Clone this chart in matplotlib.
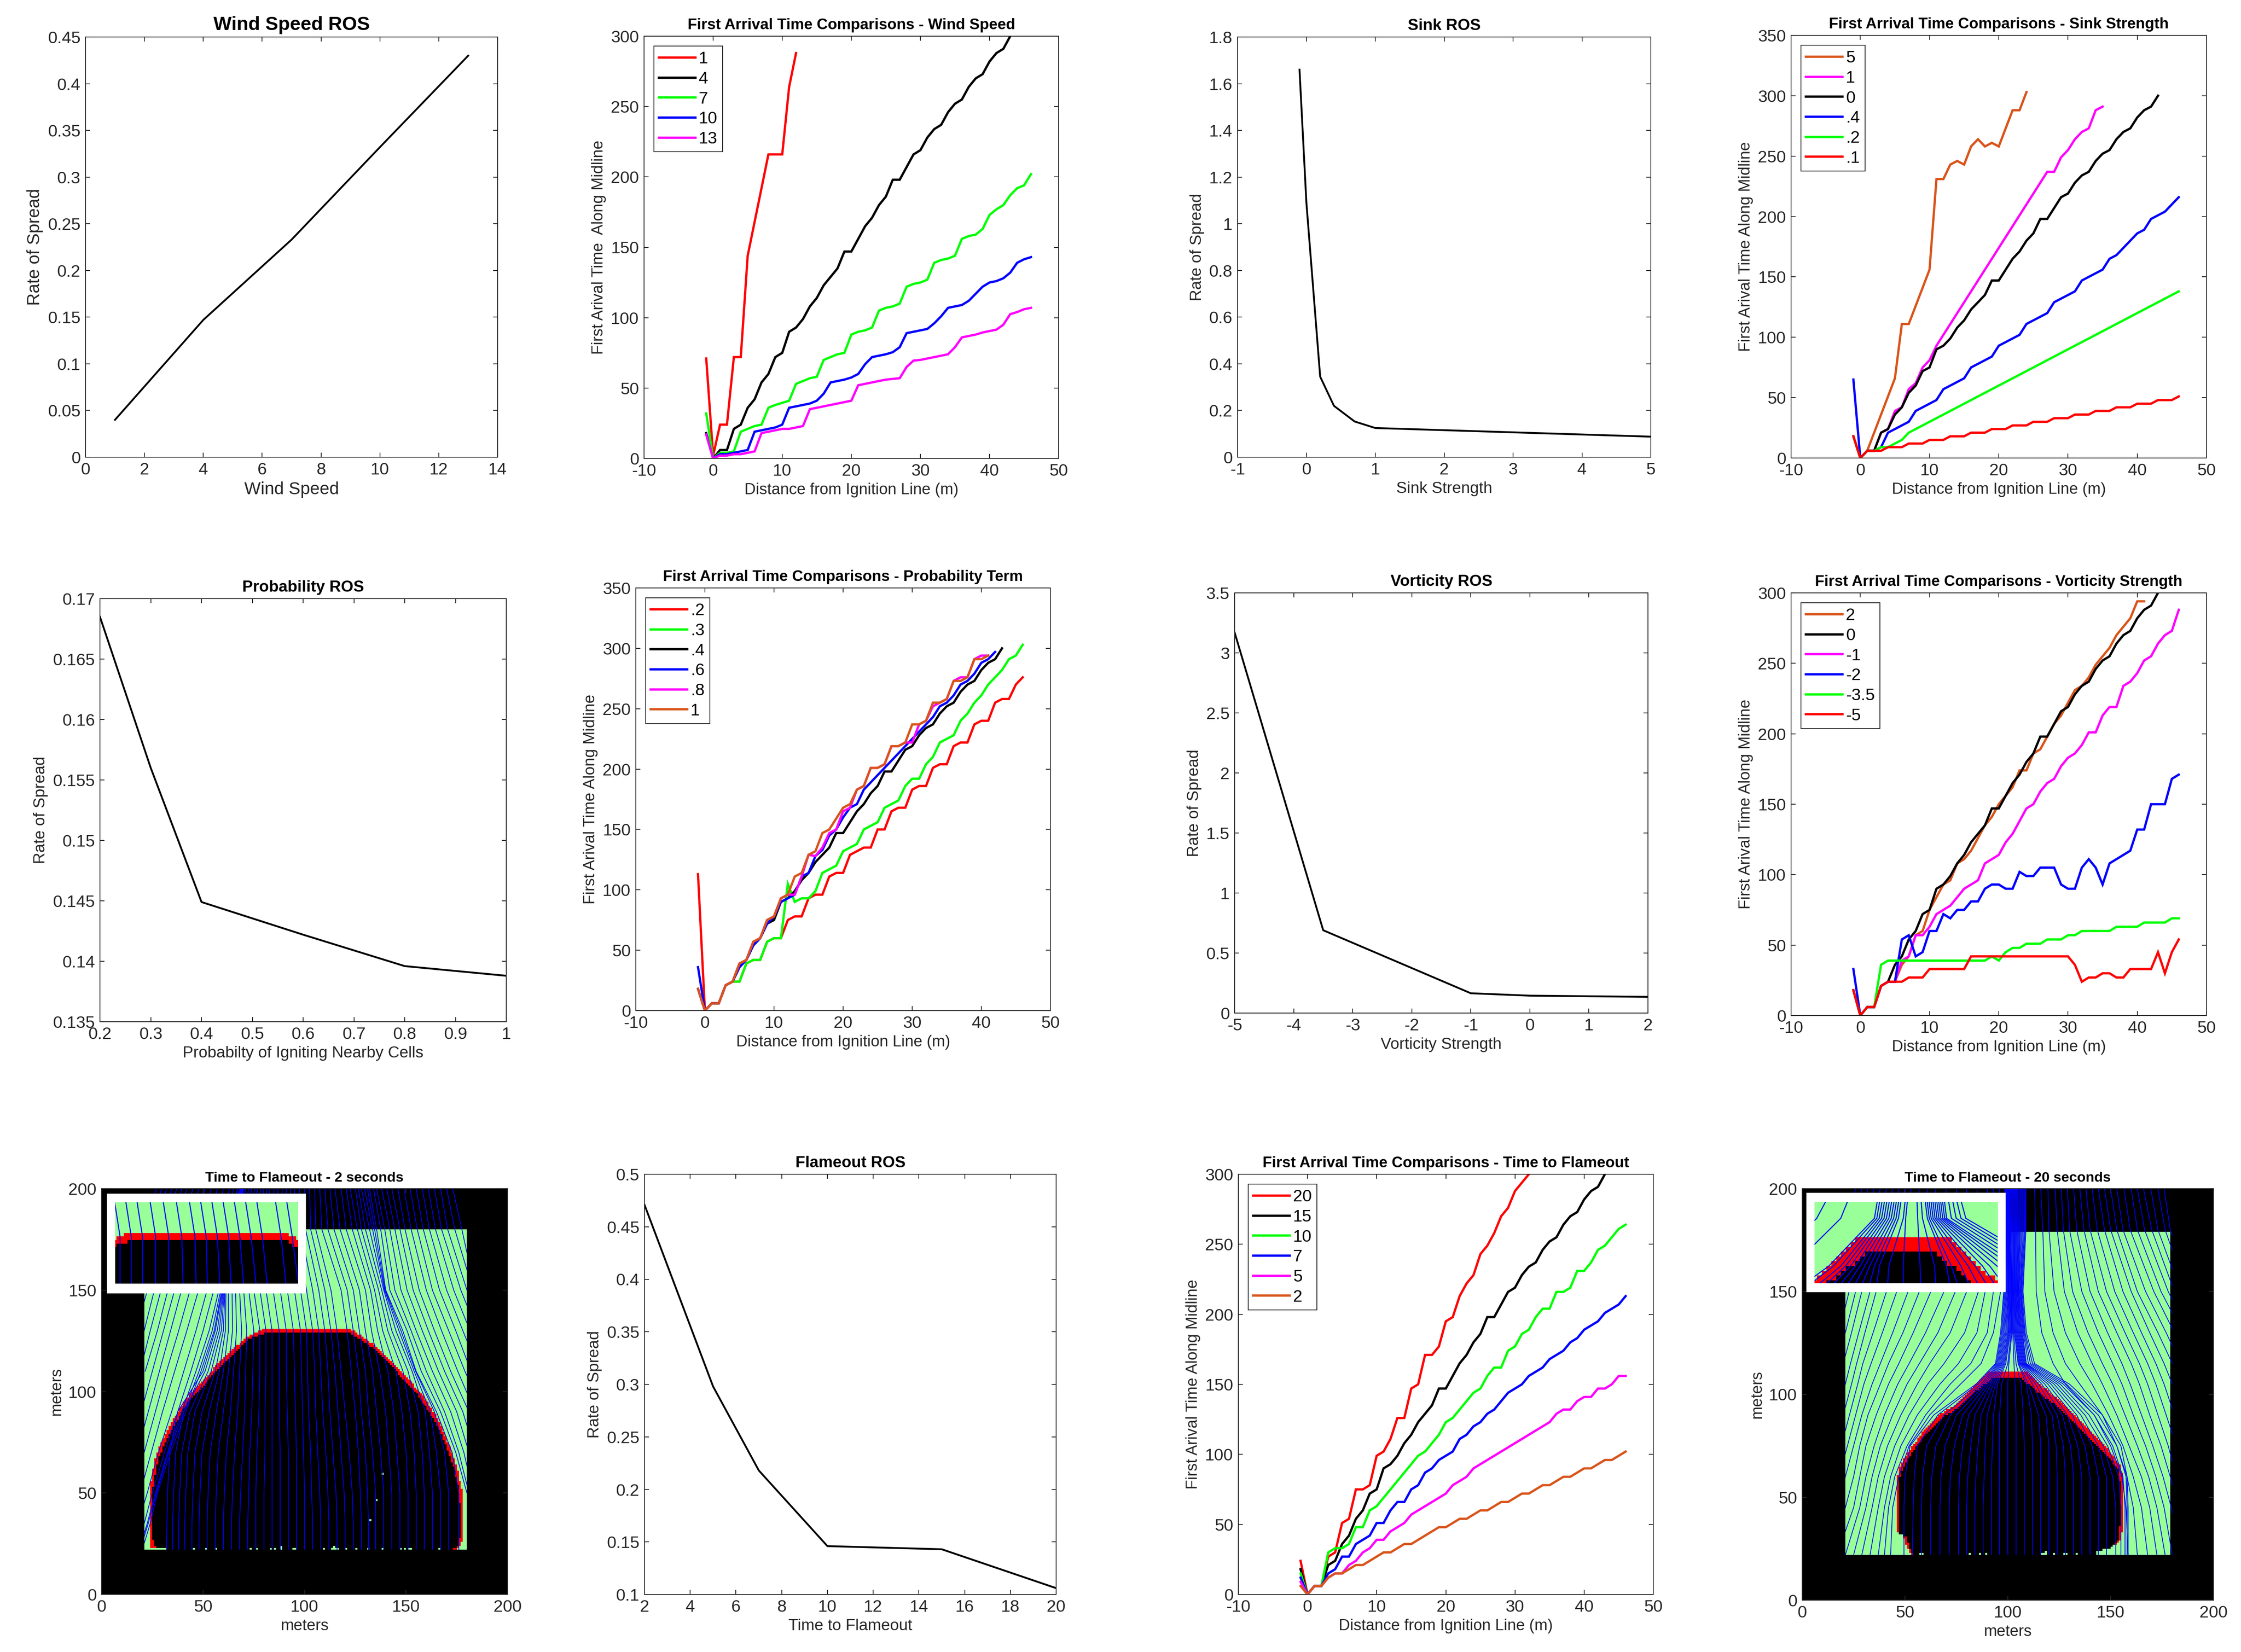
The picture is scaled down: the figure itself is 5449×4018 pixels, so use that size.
import numpy as np
import matplotlib
matplotlib.use("Agg")
import matplotlib.pyplot as plt
from matplotlib.colors import ListedColormap
from matplotlib.patches import Rectangle
from matplotlib.path import Path

plt.rcParams['font.family'] = ['Liberation Sans', 'DejaVu Sans']
plt.rcParams['axes.unicode_minus'] = False

W = 5449
H = 4018
DARK = '#262626'
RED = (1, 0, 0)
GREEN = (0, 1, 0)
BLUE = (0, 0, 1)
MAGENTA = (1, 0, 1)
BLACK = (0, 0, 0)
ORANGE = (0.85, 0.33, 0.1)

n = np.nan

# rate of spread panels
wind_x = [1, 4, 7, 10, 13]
wind_ros = [0.04, 0.147, 0.233, 0.332, 0.43]
sink_x = [-0.1, 0, 0.2, 0.4, 0.7, 1, 5]
sink_ros = [1.66, 1.09, 0.345, 0.22, 0.153, 0.125, 0.088]
prob_x = [0.2, 0.3, 0.4, 0.6, 0.8, 1]
prob_ros = [0.1685, 0.156, 0.1449, 0.1422, 0.1396, 0.1388]
vort_x = [-5, -3.5, -1, 0, 2]
vort_ros = [3.17, 0.69, 0.165, 0.145, 0.135]
flame_x = [2, 5, 7, 10, 15, 20]
flame_ros = [0.471, 0.298, 0.218, 0.146, 0.143, 0.106]

# first arrival times, one value per metre starting at x=-1
base = [18,0,6,6,21,24,36,42,54,60,72,75,90,93,99,108,114,123,129,135,147,147,156,165,171,180,186,198,198,207,216,219,228,234,237,246,252,255,264,270,273,282,288,291,300]

wind_1 = [71,2,24,24,72,72,144,168,192,216,216,216,264,288]
wind_7 = [32,0,4,4,5,19,21,23,24,36,38,39.5,41,53,55,57,58,70,72,74,75,88,90,91,93,105,107,108,110,122,124,125,127,139,141,142,144,156,158,159,163,173,177,180,187,192,194,202]
wind_10 = [17,0,3,3,4,5,6,19,20,21,22,24,36,37,38,39,41,46,54,55,56,57.5,60,67,72,73,74,75.5,79,89,90,91,92,96,101,107,108,109,112,117,122,125,126,128,132,139,141.5,143]
wind_13 = [17,0,2,2,3,3,4,5,18,19,20,21,21,22,23,35,36,37,38,39,40,41,52,53,54,55,56,56.5,57,65,69.5,70,71,72,73,74,79,86,87,88,89.5,90.5,91.5,95,102.5,104,106,107]

sink_5 = [18,0,6,21,36,51,66,111,111,126,141,156,231,231,243,246,243,258,264,258,261,258,273,288,288,303]
sink_1 = [18,0,6,6,21,24,39,42,57,62,75,81,93,102,111,120,129,138,147,156,165,174,183,192,201,210,219,228,237,237,249,255,264,270,273,288,291]
sink_04 = [65,0,6,6,9,21,24,27,30,39,42,45,48,57,60,63,66,75,78,81,84,93,96,99,102,111,114,117,120,129,132,135,138,147,150,153,156,165,168,174,180,186,189,198,201,204,210,216]
sink_02 = [18,0,6,6,9,9,12,15,21,24,27,30,33,36,39,42,45,48,51,54,57,60,63,66,69,72,75,78,81,84,87,90,93,96,99,102,105,108,111,114,117,120,123,126,129,132,135,138]
sink_01 = [18,0,6,6,6,9,9,9,12,12,12,15,15,15,18,18,18,21,21,21,24,24,24,27,27,27,30,30,30,33,33,33,36,36,36,39,39,39,42,42,42,45,45,45,48,48,48,51]

prob_02 = [113,0,6,6,21,24,24,39,42,42,57,60,60,75,78,78,93,96,96,111,114,114,129,132,135,135,150,150,165,168,168,183,186,186,201,204,204,219,222,222,237,240,240,255,258,258,270,276]
prob_03 = [18,0,6,6,21,24,24,39,42,42,57,60,60,105,90,93,93,99,114,117,120,132,135,138,150,153,156,168,171,174,186,192,192,204,210,222,225,228,240,246,255,261,270,276,282,291,294,303]
prob_06 = [36,0,6,6,21,24,36,42,54,60,72,78,90,93,96,111,114,128,133,145,150,160,168,171,183,189,195,201,207,213,219,225,231,237,243,252,255,261,270,273,279,288,291,297]
prob_08 = [18,0,6,6,21,24,39,42,57,60,75,78,93,96,96,111,129,128,135,147,150,165,168,183,186,201,201,204,219,219,222,222,237,240,252,255,258,273,276,276,291,294,294]
prob_1 = [18,0,6,6,21,24,39,42,57,60,75,78,93,96,111,114,129,132,147,150,159,168,171,183,186,201,201,204,219,219,222,237,237,240,255,255,258,273,273,276,291,291,294]

vort_2 = [18,0,6,6,21,24,24,36,42,57,60,75,84,93,96,108,111,117,126,135,141,150,156,162,174,174,186,189,198,207,213,222,231,234,240,249,255,261,270,276,282,294,294]
vort_m1 = [18,0,6,6,21,24,24,39,42,57,57,63,72,75,78,84,90,93,96,108,111,114,123,129,138,147,150,159,165,168,177,183,186,192,201,201,213,219,219,234,237,243,252,255,264,270,273,288]
vort_m2 = [33,0,6,6,21,24,24,54,57,42,45,60,60,72,69,75,75,81,81,90,93,93,90,90,102,99,99,105,105,105,93,90,90,105,111,105,93,108,111,114,117,132,132,150,150,150,168,171]
vort_m35 = [18,0,6,6,36,39,39,39,39,39,39,39,39,39,39,39,39,39,39,39,42,39,45,48,48,51,51,51,54,54,54,57,57,60,60,60,60,60,63,63,63,63,66,66,66,66,69,69]
vort_m5 = [18,0,6,6,21,24,24,24,27,27,27,33,33,33,33,33,33,42,42,42,42,42,42,42,42,42,42,42,42,42,42,42,36,24,27,27,30,30,27,27,33,33,33,33,45,30,45,54]

flame_20 = [24,0,6,6,27,30,51,54,75,75,78,99,102,111,126,126,147,150,171,171,177,195,198,213,222,228,243,249,258,270,276,288,294,300]
flame_10 = [15,0,6,6,30,33,33,36,48,48,60,63,69,75,81,87,93,99,102,108,114,123,126,132,138,144,147,156,162,162,174,177,186,189,198,204,204,216,216,219,231,231,237,246,249,255,261,264]
flame_7 = [12,0,6,6,15,18,27,27,36,39,42,51,51,60,66,66,75,78,87,90,96,99,102,111,114,120,123,129,132,138,144,147,150,156,159,162,168,171,174,180,183,189,192,195,201,204,207,213]
flame_5 = [9,0,6,6,12,15,15,21,24,30,33,39,39,45,48,51,57,60,63,66,69,72,78,81,84,90,93,96,99,102,105,108,111,114,117,120,123,129,132,132,138,141,141,147,147,150,156,156]
flame_2 = [6,0,6,6,12,15,15,18,21,21,24,27,30,30,33,36,36,39,42,45,48,48,51,54,54,57,60,60,63,66,66,69,72,72,75,78,78,81,84,84,87,90,90,93,96,96,99,102]

# burnt area outlines (x, y), outer edge of the red front and inner edge
front2_outer = [(23.5,21.6),(23.5,49.5),(25.5,62.3),(26.8,68.7),(30.2,76.7),(35.2,86.3),(41,95.8),(50.3,106),(58.7,115),(67,123),(72,127),(79.6,130.7),(123.2,130.7),(127.4,127.8),(135.8,122.2),(147.5,110.2),(157.6,99),(166,86.3),(171,74.3),(175.2,62.3),(177.7,51),(178.5,30),(176.9,24),(173.5,21.6)]
front2_inner = [(30,21.6),(26,24),(25,30),(25,50),(27,62),(28.5,68),(32,76),(37,85.5),(42.5,95),(52,105),(60,114),(68,122),(73,126),(80.5,128.7),(122.5,128.7),(126.5,126.3),(134.5,121),(146,109),(156,98),(164.5,85.5),(169.5,74),(173.7,62),(176.2,51),(177.2,30),(175.5,24),(171,21.6)]
front20_outer = [(53,21.5),(50.6,26.5),(49,32),(45.5,32.8),(45.5,50),(46.7,62.8),(48.3,66.7),(52.2,73),(58.6,81.7),(68,91),(74.5,95),(84,104.6),(90.4,111),(109.5,111),(116,104.6),(124,98.3),(138.2,84),(147.8,74.6),(155,65),(156.5,55),(156.5,42),(155,29),(151,26.5),(147.8,25.7),(143.8,25),(142.7,21.5)]
front20_inner = [(54,21.5),(52,26.5),(50.5,31),(46.5,32),(46.5,50),(47.7,62),(50,66),(53.5,72),(60,80.5),(69,89.5),(76,93.5),(85,102),(93,108),(106.5,108),(113.5,102),(122,96),(136.5,82.5),(146,73),(153.5,64),(155,55),(155,42),(154,30),(150.5,25.5),(147.5,24.7),(143.8,24),(142,21.5)]

# single green cells left inside the burnt area
specks2_x = [24,25,26,27,28,29,30,31,45,51,56,73,76,83,85,88,88,94,95,109,113,114,114,115,116,120,125,131,138,147,149,151,152,166]
specks2_y = [22,22,22,22,22,22,22,22,22,22,22,22,22,22,22,22,23,22,22,22,22,22,23,22,22,22,22,22,22,22,22,22,22,22]
specks2_in_x = [138,135,132]
specks2_in_y = [59,46,36]
specks20_x = [57,58,81,86,89,116,117,118,118,122,127,128,133,146,147,148,150,151,152]
specks20_y = [22,22,22,22,22,22,22,22,23,22,22,22,22,24,24,24,25,24,25]

# streamlines: x position of each line at these heights, nan once it has left
levels2 = [200,180,150,130,110,90,70,50,35,22]
lines2 = [
 [27,21],[29.5,24,14],[32,26.5,17],[34.5,29,21],[37,31,22.6,17],[39.5,34,26,21],
 [42,36.5,29.3,24,19],[45,39,32.7,27.5,21.5],[48,42,36,30.5,25,19.5],
 [51,45,39.4,34,28.5,23,17.5],[54,48.5,43.6,38,32,26.5,21,15],[57,52,47.8,42,36,30,24.5,19],
 [60,55.5,52,46.5,40.5,34.5,28,22.5,18],[63,59,55.3,50,44,37.5,31,25,21,17],
 [65,61,57.8,53,46.5,39.5,32.5,26.5,22.5,18.5],[67,62,58.7,54.5,48,40.5,33,27,23,19],
 [68,63,59.2,55.5,49,41.5,34,27.5,24,20],
 [68.5,63.5,59.6,56,50,37.5,33.5,32.5,32.2,32],[68.8,64,59.9,57,51,40.5,36.5,35.5,35,35],
 [69.1,64.4,60.2,58,52.5,43.5,39.5,38.5,38,38],[69.4,64.8,60.5,59,54,46,42.5,41.5,41,41],
 [69.7,65.2,60.8,60,56,49.5,46,45,44.5,44.5],[70,65.7,61.3,61,58,53,49.5,48.5,48,48],
 [71,67,62.5,62.5,60,56.5,53.5,52.5,52,52],[72.5,68.5,64.3,64.5,62.5,60,57.5,56.5,56,56],
 [74,70,66,66.5,65,63.5,61.5,60.5,60,60],[75.5,71.5,68,69,68,67,65.5,64.5,64,64],
 [77,73,70,71.5,71,70.5,69.5,68.5,68,68],[78.5,74.5,72.5,75,74.5,74,73,72.5,72,72],
 [80,76.5,75,78,78,77.5,76.5,76,76,76],
 [81.5,78.5,78,81,81,80.5,80.5,80,80,80],[83,80.5,81,84,84,84,84,84,84,84],
 [85,83,84.5,87.5,87.5,87.5,88,88,88,88],[87,85.5,88,91,91,91.5,92,92,92,92],
 [89,88,91.5,94.5,95,95.5,96,96,96,96],[91,90.5,95,98,98.5,99,99.5,100,100,100],
 [93,93,98,101,101.5,102,103,103.5,104,104],[95,95.5,101,104,105,105.5,106.5,107.5,108,108],
 [97.5,98,104,107,108,109,110.5,111.5,112,112],[100,100.5,107,110,111.5,112.5,114,115.5,116,116],
 [102.5,103,110,113,115,116.5,118,119.5,120,120],[105,105.5,113,116,118,120,122,123.5,124,124],
 [107.5,108.5,118,121,123,125,126.5,127.5,128,128],[110,111.5,121,124,126.5,128,130,131,131.5,131.5],
 [112.5,114.5,124,127,130,131.5,133.5,135,135,135],[115,117.5,127,130,133.5,135.5,137.5,139,139,139],
 [118,120.5,130,133,137,140,141.5,143,143,143],[120.5,123.5,132.5,136,141,144,145.5,147,147,147],
 [122.5,126,134.5,138.5,145,148,150,151,151,151],[125,128,136.5,141,148.5,152,154,155,155,155],
 [126.5,130,138,143,151,156,158,159,159,159],[128,132,139,145,153,159.5,161.5,163,163,163],
 [129.5,133.5,139.4,146.5,154,162,165,167,167,167],[131,134.5,139.7,147.5,154.7,164,169,171,171,171],
 [132,135.5,140,148.4,155,165,172.7,176,176,176],
 [134,137.5,142,150.5,157.5,167,174.5,180],[135.5,139.5,144.5,152.5,160,169,176,181],
 [138,142,147.5,155,163,172,178.5,183],[140.5,144.5,150.5,158,166,175,181],
 [143,147,153.5,161,169,178,184],[146,149.5,156.5,164,172,181],[149,152.5,160,167.5,175.5,184],
 [152,155.5,163,171,179,188],[155,158.5,166.5,174.5,182],[158,161.5,170,178,186],
 [161,164.5,173.5,181.5],[164,167.5,177,185],[167,170.5,180],[170,174,183],[173,177.5,184],
]

levels20 = [200,180,150,130,115,105,90,75,60,45,22]
lines20 = [
 [26,21],[29,24,16],[32,27,19],[35,30,22.8,18],[38,33,26,21,17],[41,36,29,24,20,17],
 [44,39,33,27.5,23.5,21,16],[47,42,36,30.5,26.5,24,20,16],[50,45,41,34.5,29.5,27,23,19,15],
 [53,48.5,46,39,33.5,30,26,22,18,14],[57,53,51.5,44,38,34,29,25,21,18,11],
 [61,58,57,49,42,38,32,28,25,21,14],[65,63,62.6,54,47,42,36,31,28,25,17],
 [70,69,69,60,52,46.5,40,35,31,28,21],[75,74.5,74.5,66,57,51,44,38,34,31,25],
 [80,80,80,72,62,56,48,41.5,37,34,29],[85,85.5,85.7,79,69,61,52,45,40,37,33],
 [90,90,89,85,76,67,56,48,43,40,37],[93,93.5,93,90,82,72,60,51,45,42,40],
 [96,96.5,96.5,93,87,77,62,52,47,44,43],
 [98.5,99,98,96.5,94,84.5,64,52.5,50,49.5,49.5],[98.6,99.2,98.4,97,94.5,85.5,66,56,54.5,54,53.5],
 [98.8,99.4,98.8,97.5,95,87,69,60.5,58.5,58,58],[99,99.6,99.2,98,95.5,88,72,65,63,62.5,62.5],
 [99.2,99.8,99.6,98.5,96,89,75,69.5,67.5,67,67],[99.4,100,100,99,96.5,90,78,74,72,71.5,71.5],
 [99.7,100.2,100.3,99.5,97,91,81,78,76.5,76,76],[100,100.4,100.6,100,97.5,92,84,82,80.5,80,80],
 [100.2,100.6,100.9,100.4,98,93,87,85.5,84.5,84,84],[100.5,100.8,101.2,100.8,98.5,94,90,89,88.5,88,88],
 [100.8,101,101.5,101.2,99,95,93,92.5,92,92,92],[101,101.3,101.8,101.6,100,97,96,96,96,96,96],
 [101.4,101.6,102,102,100.5,100,100,100,100,100,100],[101.8,102,102.3,102.4,103,103.5,104,104,104,104,104],
 [102.2,102.4,102.6,102.8,104,106.5,107.5,108,108,108,108],[102.6,102.8,102.9,103.2,105,109,111.5,112,112,112,112],
 [103,103.2,103.2,103.6,105.4,110,115,116,116,116,116],[103.4,103.6,103.5,104,105.8,112,118.5,120,120,120,120],
 [103.8,104,103.8,104.4,106.2,113.5,121.5,123.5,124,124,124],[104.2,104.4,104.1,104.8,106.6,115,124,127,128,128,128],
 [104.6,104.8,104.4,105.2,107,116.5,126.5,130.5,132,132,132],[105,105.2,104.7,105.6,107.4,118,129,134,136,136,136],
 [105.5,105.6,105,106,107.8,119.5,131.5,137.5,140,140,140],[106,106,105.3,106.4,108.2,121,133.5,141,144,144,144],
 [106.5,106.5,105.6,106.8,108.6,122.5,135.5,144,148,148,148],[107,107,106,107.2,109,124,137.5,146.5,151,152.5,152.5],
 [107.5,107.5,106.3,107.6,110,125.5,139.5,148.5,154,155,155],[108,108,106.6,108,111,127,142,151,156,157,157],
 [108.5,108.4,107,108.4,112,128.5,144,153,157.5,158,158],[108.8,108.8,107.4,109,113,130,146,155,158,158.5,158.5],
 [113,113.5,113.8,116.5,122,128,142,150,155.5,157.5,158.5],[116,117,118,122,128,135,146,153,158,161,163],
 [119.5,120,122.5,128,135,141,149,156,161,165,168],[123,124,127.5,134,141,146,153,159,165,169,172.5],
 [126,127,131.5,139,146,151,157,163,168.5,172.5,176.5],[129,130,136,144,151,155.5,161,167,172,176,180],
 [132,133.5,140,148.5,155.5,159.5,165,170.5,175.5,179.5,184],[135,137,144,153,160,164,169,174.5,179,183],
 [138,140,148,157,164,168,173,178,182],[141,143.5,152,161,168,172,177,182],[144,147,156,165,172,176,181],
 [147,150,160,169,176,180,185],[150,153,163,173,180,184],[153,156,167,177,184],[156.5,159.5,171,181],
 [160,163,174.5,185],[163,166.5,178,188],[166,170,181],[169.5,173,184],[173,176.5,187],[176,179,190],
]


def make_axes(left, top, right, bottom):
    ax = plt.gcf().add_axes([left / W, 1 - bottom / H, (right - left) / W, (bottom - top) / H])
    for s in ax.spines.values():
        s.set_linewidth(0.35)
        s.set_color(DARK)
    ax.tick_params(direction='in', top=True, right=True, length=2.0, width=0.35,
                   color=DARK, labelcolor=DARK, labelsize=7.4, pad=2.2)
    return ax


def finish(ax, xlim, ylim, xticks, yticks, xtl, ytl, title, xlabel, ylabel, tsize=6.7, lsize=6.9):
    ax.set_xlim(xlim)
    ax.set_ylim(ylim)
    ax.set_xticks(xticks, xtl)
    ax.set_yticks(yticks, ytl)
    ax.set_title(title, fontsize=tsize, fontweight='bold', color='k', pad=3.0)
    ax.set_xlabel(xlabel, fontsize=lsize, color=DARK, labelpad=1.5)
    ax.set_ylabel(ylabel, fontsize=lsize, color=DARK, labelpad=2.0)


def ros_panel(box, x, y, xlim, ylim, xticks, yticks, xtl, ytl, title, xlabel, tsize=7.0, lsize=7.0):
    ax = make_axes(*box)
    ax.plot(x, y, color='k', lw=0.8)
    finish(ax, xlim, ylim, xticks, yticks, xtl, ytl, title, xlabel, 'Rate of Spread', tsize, lsize)


def arrival_panel(box, series, labels, colors, ylim, yticks, ytl, title, ylabel):
    ax = make_axes(*box)
    for y, lab, col in zip(series, labels, colors):
        ax.plot(np.arange(-1, len(y) - 1), y, color=col, lw=1.0, label=lab, solid_joinstyle='miter')
    finish(ax, (-10, 50), ylim, [-10, 0, 10, 20, 30, 40, 50],
           yticks, ['-10', '0', '10', '20', '30', '40', '50'], ytl,
           title, 'Distance from Ignition Line (m)', ylabel)
    dx = 24 / (box[2] - box[0])
    dy = 24 / (box[3] - box[1])
    leg = ax.legend(loc='upper left', bbox_to_anchor=(dx, 1 - dy), borderaxespad=0, fontsize=7.4,
                    fancybox=False, framealpha=1, edgecolor=DARK, handlelength=2.15,
                    handletextpad=0.2, labelspacing=0.26, borderpad=0.3)
    leg.get_frame().set_linewidth(0.35)


def raster(outer, inner, x0, x1, y0, y1, spx, spy):
    # 0 black, 1 green, 2 red on a one metre grid
    gx, gy = np.meshgrid(np.arange(200) + 0.5, np.arange(200) + 0.5)
    pts = np.column_stack([gx.ravel(), gy.ravel()])
    grid = np.zeros((200, 200), dtype=int)
    grid[(gx > x0) & (gx < x1) & (gy > y0) & (gy < y1)] = 1
    out = Path(outer).contains_points(pts).reshape(200, 200)
    ins = Path(inner).contains_points(pts).reshape(200, 200)
    grid[out] = 2
    grid[ins] = 0
    grid[np.array(spy), np.array(spx)] = 1
    return grid


def draw_lines(ax, levels, rows, lw, clip=None):
    for row in rows:
        xs = list(row) + [n] * (len(levels) - len(row))
        ln, = ax.plot(xs, levels, color=BLUE, lw=lw)
        if clip is not None:
            ln.set_clip_path(clip)


def field_panel(box, grid, levels, rows, white, inner, xz, yz, title, title_size):
    ax = make_axes(*box)
    cmap = ListedColormap([(0, 0, 0), (0.6, 1, 0.6), (1, 0, 0)])
    ax.imshow(grid, origin='lower', extent=[0, 200, 0, 200], cmap=cmap, vmin=0, vmax=2,
              interpolation='nearest', aspect='auto')
    clip = Rectangle((21, 22), 159, 178, transform=ax.transData)
    draw_lines(ax, levels, rows, 0.33, clip)
    finish(ax, (0, 200), (0, 200), [0, 50, 100, 150, 200], [0, 50, 100, 150, 200],
           ['0', '50', '100', '150', '200'], ['0', '50', '100', '150', '200'],
           title, 'meters', 'meters', title_size)
    ax.add_patch(Rectangle((white[0], white[1]), white[2], white[3], color='white', zorder=5))
    ins = ax.inset_axes(inner, transform=ax.transData, zorder=6)
    ins.imshow(grid, origin='lower', extent=[0, 200, 0, 200], cmap=cmap, vmin=0, vmax=2,
               interpolation='nearest', aspect='auto')
    draw_lines(ins, levels, rows, 0.45)
    ins.set_xlim(xz)
    ins.set_ylim(yz)
    ins.set_xticks([])
    ins.set_yticks([])
    for s in ins.spines.values():
        s.set_visible(False)


fig = plt.figure(figsize=(W / 400, H / 400), dpi=400)

ros_panel((208, 90, 1210, 1112), wind_x, wind_ros, (0, 14), (0, 0.45),
          [0, 2, 4, 6, 8, 10, 12, 14],
          [0, 0.05, 0.1, 0.15, 0.2, 0.25, 0.3, 0.35, 0.4, 0.45],
          ['0', '2', '4', '6', '8', '10', '12', '14'],
          ['0', '0.05', '0.1', '0.15', '0.2', '0.25', '0.3', '0.35', '0.4', '0.45'],
          'Wind Speed ROS', 'Wind Speed', 8.4, 7.6)

arrival_panel((1566, 88, 2574, 1115), [wind_1, base, wind_7, wind_10, wind_13],
              ['1', '4', '7', '10', '13'], [RED, BLACK, GREEN, BLUE, MAGENTA],
              (0, 300), [0, 50, 100, 150, 200, 250, 300], ['0', '50', '100', '150', '200', '250', '300'],
              'First Arrival Time Comparisons - Wind Speed', 'First Arival Time  Along Midline')

ros_panel((3009, 90, 4014, 1112), sink_x, sink_ros, (-1, 5), (0, 1.8),
          [-1, 0, 1, 2, 3, 4, 5], [0, 0.2, 0.4, 0.6, 0.8, 1, 1.2, 1.4, 1.6, 1.8],
          ['-1', '0', '1', '2', '3', '4', '5'],
          ['0', '0.2', '0.4', '0.6', '0.8', '1', '1.2', '1.4', '1.6', '1.8'],
          'Sink ROS', 'Sink Strength')

arrival_panel((4355, 86, 5365, 1114), [sink_5, sink_1, base, sink_04, sink_02, sink_01],
              ['5', '1', '0', '.4', '.2', '.1'], [ORANGE, MAGENTA, BLACK, BLUE, GREEN, RED],
              (0, 350), [0, 50, 100, 150, 200, 250, 300, 350],
              ['0', '50', '100', '150', '200', '250', '300', '350'],
              'First Arrival Time Comparisons - Sink Strength', 'First Arival Time Along Midline')

ros_panel((243, 1456, 1231, 2485), prob_x, prob_ros, (0.2, 1), (0.135, 0.17),
          [0.2, 0.3, 0.4, 0.5, 0.6, 0.7, 0.8, 0.9, 1],
          [0.135, 0.14, 0.145, 0.15, 0.155, 0.16, 0.165, 0.17],
          ['0.2', '0.3', '0.4', '0.5', '0.6', '0.7', '0.8', '0.9', '1'],
          ['0.135', '0.14', '0.145', '0.15', '0.155', '0.16', '0.165', '0.17'],
          'Probability ROS', 'Probabilty of Igniting Nearby Cells')

arrival_panel((1546, 1430, 2554, 2458), [prob_02, prob_03, base, prob_06, prob_08, prob_1],
              ['.2', '.3', '.4', '.6', '.8', '1'], [RED, GREEN, BLACK, BLUE, MAGENTA, ORANGE],
              (0, 350), [0, 50, 100, 150, 200, 250, 300, 350],
              ['0', '50', '100', '150', '200', '250', '300', '350'],
              'First Arrival Time Comparisons - Probability Term', 'First Arival Time Along Midline')

ros_panel((3002, 1442, 4007, 2464), vort_x, vort_ros, (-5, 2), (0, 3.5),
          [-5, -4, -3, -2, -1, 0, 1, 2], [0, 0.5, 1, 1.5, 2, 2.5, 3, 3.5],
          ['-5', '-4', '-3', '-2', '-1', '0', '1', '2'],
          ['0', '0.5', '1', '1.5', '2', '2.5', '3', '3.5'],
          'Vorticity ROS', 'Vorticity Strength')

arrival_panel((4355, 1442, 5365, 2470), [vort_2, base, vort_m1, vort_m2, vort_m35, vort_m5],
              ['2', '0', '-1', '-2', '-3.5', '-5'], [ORANGE, BLACK, MAGENTA, BLUE, GREEN, RED],
              (0, 300), [0, 50, 100, 150, 200, 250, 300], ['0', '50', '100', '150', '200', '250', '300'],
              'First Arrival Time Comparisons - Vorticity Strength', 'First Arival Time Along Midline')

grid2 = raster(front2_outer, front2_inner, 21, 180, 22, 180,
               specks2_x + specks2_in_x, specks2_y + specks2_in_y)
field_panel((247, 2891, 1234, 3878), grid2, levels2, lines2,
            (3.3, 149, 96.7, 48), (6.7, 153.2, 90, 40.1), (76.7, 125.5), (116.8, 139.6),
            'Time to Flameout - 2 seconds', 6.2)

ros_panel((1567, 2856, 2568, 3878), flame_x, flame_ros, (2, 20), (0.1, 0.5),
          [2, 4, 6, 8, 10, 12, 14, 16, 18, 20], [0.1, 0.15, 0.2, 0.25, 0.3, 0.35, 0.4, 0.45, 0.5],
          ['2', '4', '6', '8', '10', '12', '14', '16', '18', '20'],
          ['0.1', '0.15', '0.2', '0.25', '0.3', '0.35', '0.4', '0.45', '0.5'],
          'Flameout ROS', 'Time to Flameout')

arrival_panel((3011, 2856, 4020, 3878), [flame_20, base, flame_10, flame_7, flame_5, flame_2],
              ['20', '15', '10', '7', '5', '2'], [RED, BLACK, GREEN, BLUE, MAGENTA, ORANGE],
              (0, 300), [0, 50, 100, 150, 200, 250, 300], ['0', '50', '100', '150', '200', '250', '300'],
              'First Arrival Time Comparisons - Time to Flameout', 'First Arival Time Along Midline')

grid20 = raster(front20_outer, front20_inner, 21, 179, 22, 179, specks20_x, specks20_y)
field_panel((4382, 2891, 5382, 3892), grid20, levels20, lines20,
            (2.5, 150.3, 95.9, 47.2), (5.9, 154, 89.1, 39.7), (81.5, 119.6), (101.4, 118.5),
            'Time to Flameout - 20 seconds', 6.2)

fig.savefig('out.png', dpi=400)
